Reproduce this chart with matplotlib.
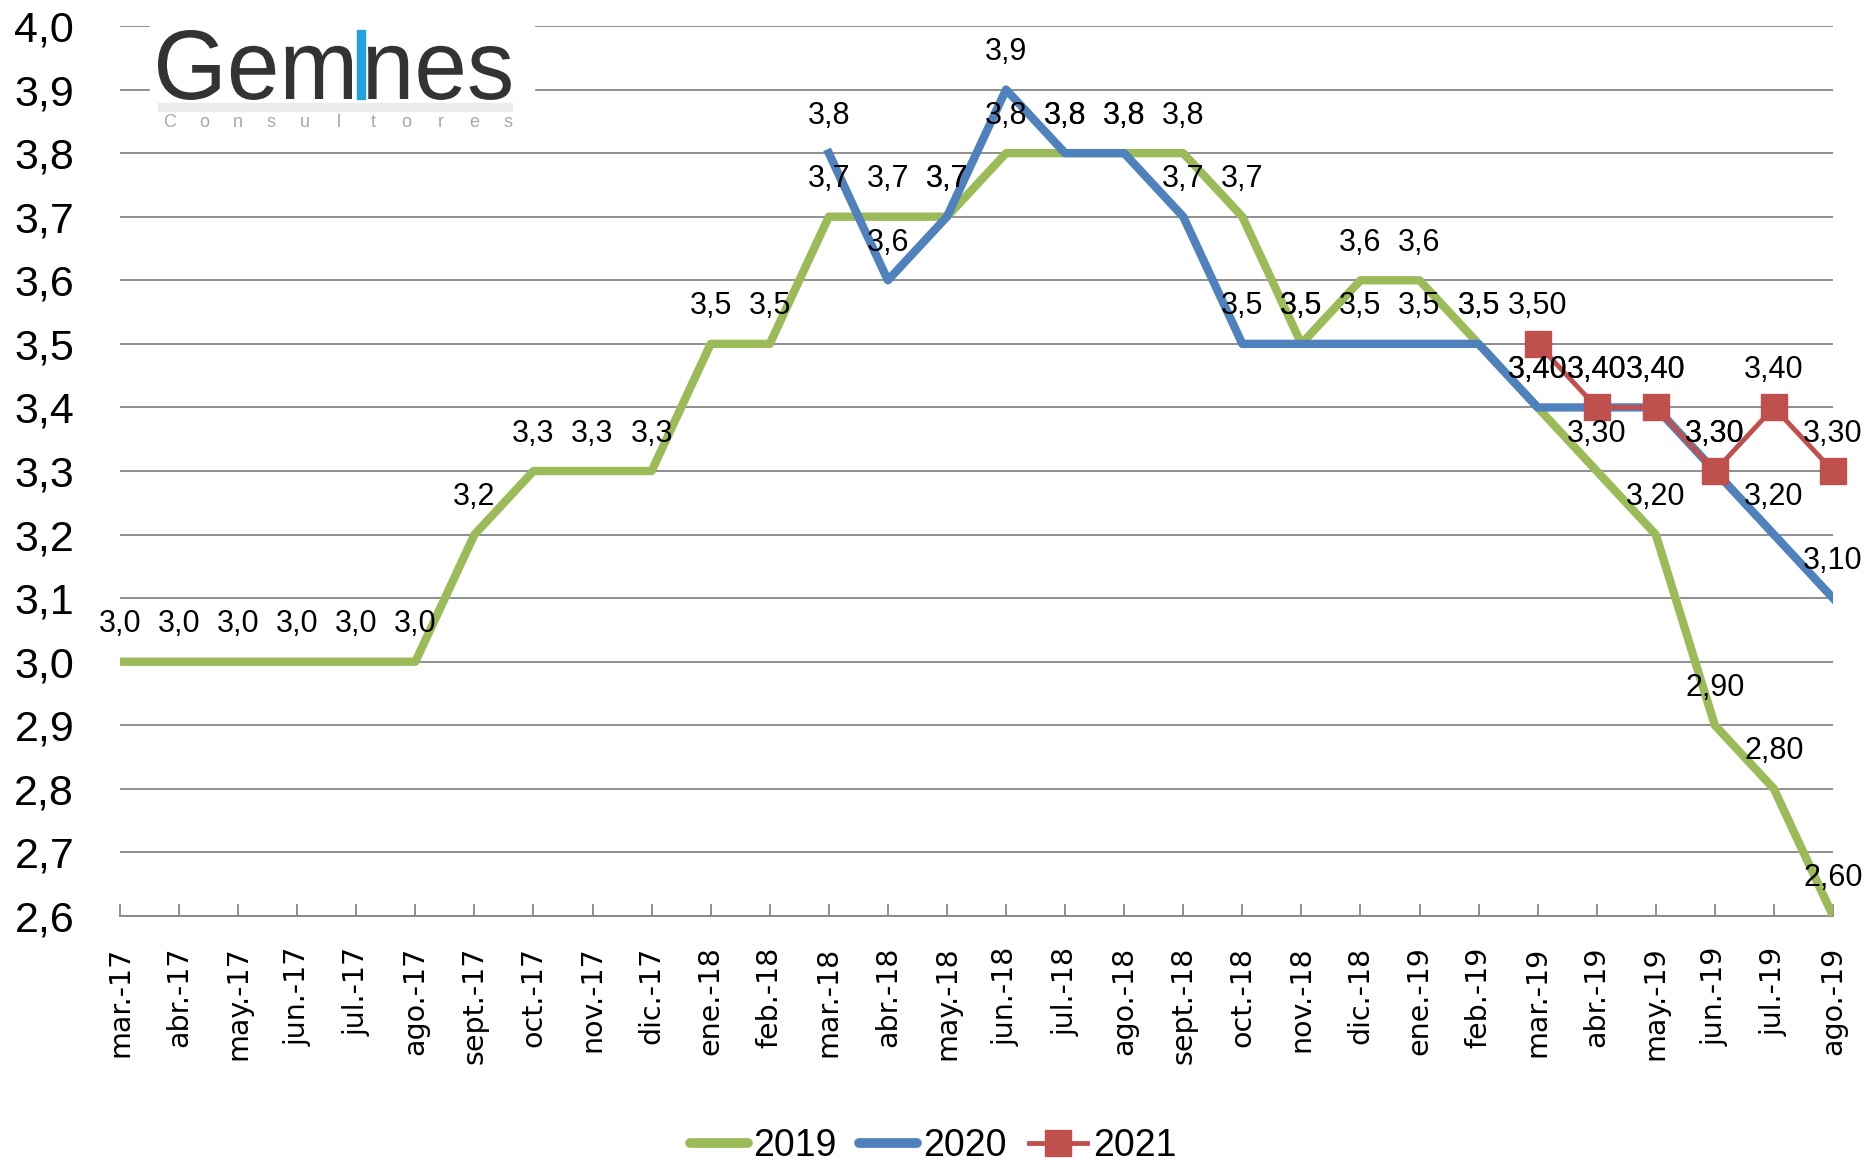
import matplotlib.pyplot as plt
import numpy as np
from matplotlib.patches import Rectangle, PathPatch
from matplotlib.lines import Line2D
from matplotlib.textpath import TextPath
from matplotlib.font_manager import FontProperties
from matplotlib.transforms import Affine2D, IdentityTransform

nan = np.nan

# Categories (monthly)
months = ['mar.-17', 'abr.-17', 'may.-17', 'jun.-17', 'jul.-17', 'ago.-17',
          'sept.-17', 'oct.-17', 'nov.-17', 'dic.-17', 'ene.-18', 'feb.-18',
          'mar.-18', 'abr.-18', 'may.-18', 'jun.-18', 'jul.-18', 'ago.-18',
          'sept.-18', 'oct.-18', 'nov.-18', 'dic.-18', 'ene.-19', 'feb.-19',
          'mar.-19', 'abr.-19', 'may.-19', 'jun.-19', 'jul.-19', 'ago.-19']

# Series values
s2019 = [3.0, 3.0, 3.0, 3.0, 3.0, 3.0, 3.2, 3.3, 3.3, 3.3, 3.5, 3.5,
         3.7, 3.7, 3.7, 3.8, 3.8, 3.8, 3.8, 3.7, 3.5, 3.6, 3.6, 3.5,
         3.40, 3.30, 3.20, 2.90, 2.80, 2.60]
s2020 = [nan] * 12 + [3.8, 3.6, 3.7, 3.9, 3.8, 3.8, 3.7, 3.5, 3.5, 3.5, 3.5, 3.5,
                      3.40, 3.40, 3.40, 3.30, 3.20, 3.10]
s2021 = [nan] * 24 + [3.50, 3.40, 3.40, 3.30, 3.40, 3.30]

# decimals shown in the data labels for each month
label_decimals = [1] * 24 + [2] * 6

green = '#9BBB59'
blue = '#4F81BD'
red = '#C0504D'
sans = ['Liberation Sans', 'DejaVu Sans']

W, H = 1866, 1166
fig = plt.figure(figsize=(W / 100, H / 100), dpi=100)
ax = fig.add_axes([120 / W, 1 - 916 / H, 1713 / W, 890 / H])

x = np.arange(len(months))
ax.plot(x, s2019, color=green, lw=6, solid_joinstyle='round', zorder=3)
ax.plot(x, s2020, color=blue, lw=6, solid_joinstyle='round', zorder=4)
ax.plot(x, s2021, color=red, lw=3.5, marker='s', markersize=19, zorder=5, clip_on=False)


def fmt(v, d):
    return f"{v:.{d}f}".replace('.', ',')


# data labels above each point
for series in (s2019, s2020, s2021):
    for i, v in enumerate(series):
        if np.isnan(v):
            continue
        ax.annotate(fmt(v, label_decimals[i]), (i, v), xytext=(0, 27),
                    textcoords='offset points', ha='center', va='center',
                    fontsize=22, family=sans, color='black', zorder=10,
                    annotation_clip=False)

ax.set_xlim(0, len(months) - 1)
ax.set_ylim(2.6, 4.0)
yt = np.arange(2.6, 4.05, 0.1)
ax.set_yticks(yt)
ax.set_yticklabels([fmt(t, 1) for t in yt], fontsize=31, family=sans)
ax.set_xticks(x)
ax.set_xticklabels(months, rotation=90, fontsize=20.5, family='DejaVu Sans')
ax.tick_params(axis='y', length=0, pad=33)
ax.tick_params(axis='x', direction='in', length=9, width=1.3, color='#868686', pad=22)
ax.grid(axis='y', color='#868686', lw=1.3)
ax.set_axisbelow(True)
for side in ('top', 'right', 'left'):
    ax.spines[side].set_visible(False)
ax.spines['bottom'].set_color('#868686')
ax.spines['bottom'].set_linewidth(1.3)

# logo block (Gemines Consultores), in pixel coords from the top-left
fig.add_artist(Rectangle((150, H - 136), 384, 124, transform=IdentityTransform(),
                         color='white', zorder=6))
fig.add_artist(Rectangle((158, H - 111), 354, 8, transform=IdentityTransform(),
                         color='#ebebeb', zorder=6))
fp = FontProperties(family='Liberation Sans')
p_gem = TextPath((0, 0), 'Gem', size=100, prop=fp)
p_nes = TextPath((0, 0), 'nes', size=100, prop=fp)
e_gem = p_gem.get_extents()
e_nes = p_nes.get_extents()
sx = (352 - 158) / e_gem.width
sy = 69 / e_gem.y1
for path, ext, left in ((p_gem, e_gem, 158), (p_nes, e_nes, 368)):
    tr = Affine2D().translate(-ext.x0, 0).scale(sx, sy).translate(left, H - 99)
    fig.add_artist(PathPatch(tr.transform_path(path), transform=IdentityTransform(),
                             facecolor='#333333', edgecolor='none', zorder=7))
fig.add_artist(Rectangle((357, H - 99), 8, 69, transform=IdentityTransform(),
                         color='#1fa3dc', zorder=7))
for k, ch in enumerate('Consultores'):
    fig.text((170 + k * 33.8) / W, 1 - 127 / H, ch, fontsize=13, family=sans,
             color='#a8a8a8', va='baseline', ha='center', zorder=7)

# legend
handles = [
    Line2D([], [], color=green, lw=7, solid_capstyle='round'),
    Line2D([], [], color=blue, lw=7, solid_capstyle='round'),
    Line2D([], [], color=red, lw=3.5, marker='s', markersize=19),
]
ax.legend(handles, ['2019', '2020', '2021'], loc='center', ncol=3,
          bbox_to_anchor=(0.5, 0.017), bbox_transform=fig.transFigure,
          frameon=False, handlelength=1.55, handletextpad=0.15,
          columnspacing=0.6, prop={'family': sans, 'size': 27})

fig.savefig('out.png', dpi=100)
